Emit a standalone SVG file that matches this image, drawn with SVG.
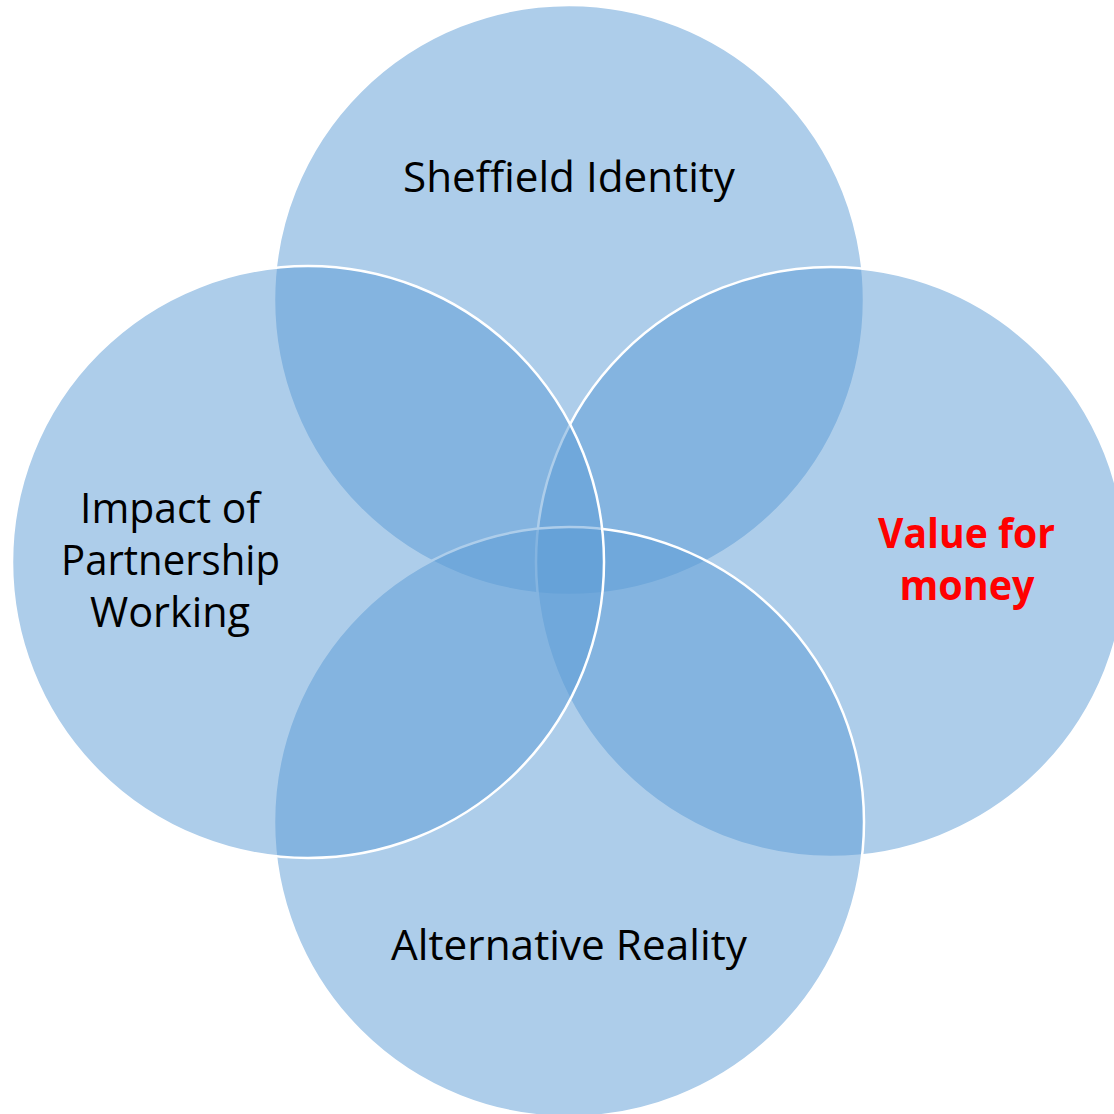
<svg xmlns="http://www.w3.org/2000/svg" width="1114" height="1114" viewBox="0 0 1114 1114">
<style>
.c{fill:#5b9bd5;fill-opacity:0.5;stroke:#ffffff;stroke-width:2.5}
.t{font-family:"Open Sans","Liberation Sans",sans-serif;font-size:42px;fill:#000000;text-anchor:middle}
.r{font-family:"Open Sans","Liberation Sans",sans-serif;font-size:42px;font-weight:bold;fill:#ff0000;text-anchor:middle}
</style>
<rect width="1114" height="1114" fill="#ffffff"/>
<g id="top"><circle class="c" cx="569" cy="300" r="295"/></g>
<g id="right"><circle class="c" cx="831" cy="562" r="295"/></g>
<g id="bottom"><circle class="c" cx="569" cy="822" r="295"/></g>
<g id="left"><circle class="c" cx="308" cy="562" r="296"/></g>
<g id="connectors"></g>
<g id="labels">
<text class="t" x="569" y="192" textLength="332" lengthAdjust="spacingAndGlyphs">Sheffield Identity</text>
<text class="t" x="170" y="523" textLength="180" lengthAdjust="spacingAndGlyphs">Impact of</text>
<text class="t" x="170.5" y="575" textLength="219" lengthAdjust="spacingAndGlyphs">Partnership</text>
<text class="t" x="170" y="627" textLength="160" lengthAdjust="spacingAndGlyphs">Working</text>
<text class="r" x="966.5" y="548" textLength="177" lengthAdjust="spacingAndGlyphs">Value for</text>
<text class="r" x="967" y="600" textLength="135" lengthAdjust="spacingAndGlyphs">money</text>
<text class="t" x="569" y="960" textLength="356" lengthAdjust="spacingAndGlyphs">Alternative Reality</text>
</g>
</svg>
